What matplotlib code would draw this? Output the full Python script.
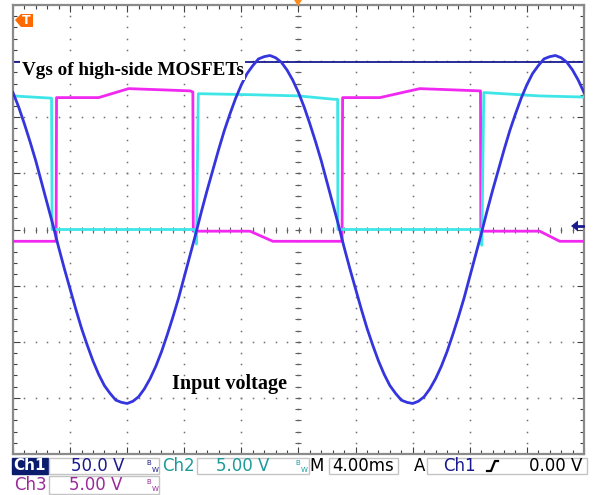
import numpy as np
import matplotlib
matplotlib.use("Agg")
import matplotlib.pyplot as plt
from matplotlib.patches import Rectangle, Polygon
from matplotlib.lines import Line2D

W, H = 597, 495

# ==========================
# SCOPE SETTINGS
# ==========================
time_scale = 4.0      # ms/div
ch1_scale = 50.0      # V/div
ch2_scale = 5.0
ch3_scale = 5.0
ch2_offset = 0.0      # div
ch3_offset = -0.21    # div
cursor_v = 149.0      # ch1 cursor level (V)
trig_level = 0.0      # V

# ==========================
# TRACES
# ==========================
# Ch1: input voltage, one sample every 0.4 ms
t1 = np.linspace(-20, 20, 101)
v1 = [122, 109, 94, 78, 61, 42, 23, 4, -16, -35, -53, -71, -88, -103,
      -117, -129, -139, -146, -152, -154, -155, -153, -149, -142, -133,
      -122, -109, -94, -78, -61, -42, -23, -4, 16, 35, 53, 71, 88, 103,
      117, 129, 139, 146, 152, 154, 155, 153, 149, 142, 133,
      122, 109, 94, 78, 61, 42, 23, 4, -16, -35, -53, -71, -88, -103,
      -117, -129, -139, -146, -152, -154, -155, -153, -149, -142, -133,
      -122, -109, -94, -78, -61, -42, -23, -4, 16, 35, 53, 71, 88, 103,
      117, 129, 139, 146, 152, 154, 155, 153, 149, 142, 133, 122]

# Ch2: Vgs, high-side MOSFET 1
t2 = [-20, -17.3, -17.26, -7.25, -7.15, -7.02, -3.0, 0.0, 2.5, 2.74,
      2.76, 12.75, 12.84, 12.98, 16.9, 20]
v2 = [11.9, 11.7, 0.0, 0.0, -1.3, 12.1, 12.0, 11.9, 11.6, 11.6,
      0.0, 0.0, -1.4, 12.2, 11.9, 11.8]

# Ch3: Vgs, high-side MOSFET 2
t3 = [-20, -16.98, -16.95, -14.0, -11.9, -7.6, -7.4, -7.37, -3.4, -1.8,
      3.05, 3.09, 5.7, 8.5, 12.7, 12.75, 12.77, 16.9, 18.3, 20]
v3 = [0.0, 0.0, 12.8, 12.8, 13.6, 13.4, 13.3, 0.9, 0.9, 0.0,
      0.0, 12.8, 12.8, 13.6, 13.4, 13.4, 0.9, 0.9, 0.0, 0.0]

blue = "#3535de"
cyan = "#3ee6e8"
magenta = "#f028f0"
navy = "#1a1a8c"
teal = "#1e9a9a"
purple = "#9a2a9a"

# ==========================
# FIGURE
# ==========================
fig = plt.figure(figsize=(W / 100, H / 100), dpi=100)
fig.patch.set_facecolor("white")
ax = fig.add_axes([13 / W, (H - 454) / H, 571 / W, 449 / H])
ax.set_xlim(-5, 5)
ax.set_ylim(-4, 4)


def div_x(t):
    return np.asarray(t, dtype=float) / time_scale


# graticule dots
minor = np.arange(-5, 5.001, 0.2)
minor_y = np.arange(-4, 4.001, 0.2)
for gx in range(-4, 5):
    ax.plot(np.full_like(minor_y, gx), minor_y, ls="none", marker="s",
            ms=1.1, color="#707070", mew=0, zorder=1)
for gy in range(-3, 4):
    ax.plot(minor, np.full_like(minor, gy), ls="none", marker="s",
            ms=1.1, color="#707070", mew=0, zorder=1)
# centre line ticks
ax.plot(minor, np.zeros_like(minor), ls="none", marker="|", ms=4.5,
        mew=0.8, color="#606060", zorder=1)
ax.plot(np.zeros_like(minor_y), minor_y, ls="none", marker="_", ms=4.5,
        mew=0.8, color="#606060", zorder=1)

# ch1 cursor line
ax.axhline(cursor_v / ch1_scale, color="#1a1a90", lw=1.3, zorder=2)

# traces
ax.plot(div_x(t3), np.asarray(v3) / ch3_scale + ch3_offset, color=magenta,
        lw=2.0, zorder=3)
ax.plot(div_x(t2), np.asarray(v2) / ch2_scale + ch2_offset, color=cyan,
        lw=2.0, zorder=4)
ax.plot(div_x(t1), np.asarray(v1) / ch1_scale, color=blue, lw=2.0, zorder=5)

# annotations
ax.text(-4.85, 2.76, "Vgs of high-side MOSFETs", family="Liberation Serif",
        weight="bold", fontsize=13.8, color="black", va="baseline",
        zorder=6, bbox=dict(fc="white", ec="none", pad=1.0))
ax.text(-2.21, -2.85, "Input voltage", family="Liberation Serif",
        weight="bold", fontsize=14.5, color="black", va="baseline", zorder=6)

# frame and edge ticks
for s in ax.spines.values():
    s.set_color("#8a8a8a")
    s.set_linewidth(1.6)
ax.set_xticks(np.arange(-5, 5.01, 1))
ax.set_yticks(np.arange(-4, 4.01, 1))
ax.set_xticks(minor, minor=True)
ax.set_yticks(minor_y, minor=True)
ax.tick_params(which="both", direction="in", top=True, right=True,
               labelbottom=False, labelleft=False, color="#404040")
ax.tick_params(which="major", length=5, width=0.8)
ax.tick_params(which="minor", length=3, width=0.8)


# ==========================
# SCREEN MARKERS / STATUS BAR (pixel positions)
# ==========================
def fp(x, y):
    return (x / W, 1 - y / H)


def poly(pts, color):
    fig.add_artist(Polygon([fp(*p) for p in pts], closed=True, fc=color,
                           ec="none", transform=fig.transFigure, zorder=10))


def box(x0, y0, x1, y1, fc="none", ec="#c4c4c4"):
    fig.add_artist(Rectangle(fp(x0, y1), (x1 - x0) / W, (y1 - y0) / H,
                             fc=fc, ec=ec, lw=1.0,
                             transform=fig.transFigure, zorder=10))


def label(x, y, s, color, size=12, weight="normal", ha="center"):
    fig.text(*fp(x, y), s, color=color, fontsize=size, weight=weight,
             ha=ha, va="center", family="DejaVu Sans", zorder=11)


def bw(x, y, color):
    fig.text(*fp(x - 3, y - 3), "B", color=color, fontsize=5,
             ha="center", va="center", zorder=11)
    fig.text(*fp(x + 3, y + 4), "W", color=color, fontsize=5,
             ha="center", va="center", zorder=11)


# trigger 'T' tag and position marker
poly([(15, 20), (21, 14), (33, 14), (33, 27), (21, 27)], "#ff6a00")
fig.text(*fp(26, 20.5), "T", color="white", fontsize=9, weight="bold",
         ha="center", va="center", zorder=11)
poly([(294, 0), (302, 0), (298, 6)], "#ff8c1a")
# trigger level arrow
poly([(571, 226), (578, 220.5), (578, 231.5)], "#1a1a90")
fig.add_artist(Line2D([577 / W, 583 / W], [1 - 226 / H, 1 - 226 / H],
                      color="#1a1a90", lw=2.0, transform=fig.transFigure))

row1, row2 = 466, 485
box(12, 458, 48, 474, fc="#0c1c6c", ec="#0c1c6c")
label(30, row1, "Ch1", "white", size=11, weight="bold")
box(49, 458, 159, 474)
label(98, row1, "50.0 V", navy)
bw(152, row1, navy)
label(178, row1, "Ch2", teal)
box(197, 458, 309, 474)
label(243, row1, "5.00 V", teal)
bw(301, row1, teal)
label(317, row1, "M", "black")
box(329, 458, 398, 474)
label(363, row1, "4.00ms", "black")
label(420, row1, "A", "black")
box(427, 458, 587, 474)
label(459, row1, "Ch1", navy)
fig.add_artist(Line2D([487 / W, 491 / W, 495 / W, 498 / W],
                      [1 - 471 / H, 1 - 471 / H, 1 - 461 / H, 1 - 461 / H],
                      color="black", lw=1.6, transform=fig.transFigure))
label(556, row1, "0.00 V", "black")

label(30, row2, "Ch3", purple)
box(49, 476, 159, 494)
label(96, row2, "5.00 V", purple)
bw(152, row2, purple)

fig.savefig("out.png", dpi=100, facecolor="white")
